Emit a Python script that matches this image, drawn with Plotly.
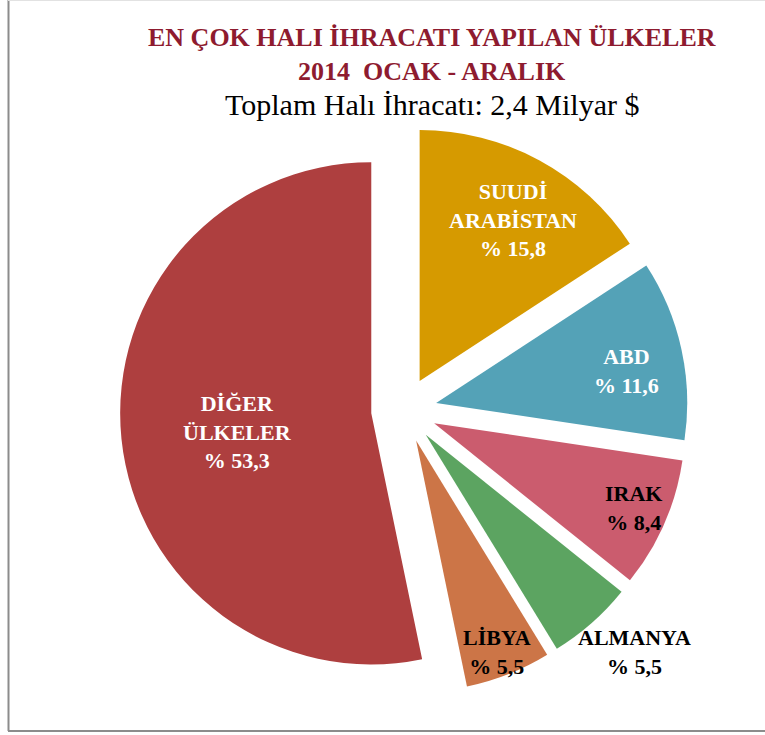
import plotly.graph_objects as go

# ---- data ----
countries = ["SUUDİ ARABİSTAN", "ABD", "IRAK", "ALMANYA", "LİBYA", "DİĞER ÜLKELER"]
label_lines = [["SUUDİ", "ARABİSTAN"], ["ABD"], ["IRAK"], ["ALMANYA"], ["LİBYA"], ["DİĞER", "ÜLKELER"]]
values = [15.8, 11.6, 8.4, 5.5, 5.5, 53.3]
colors = ["#D69A00", "#54A2B7", "#CB5C6E", "#5CA461", "#CC7547", "#AE3F3F"]
label_colors = ["white", "white", "black", "black", "black", "white"]
# label centres in pixels (layout only)
label_pos_px = [(513, 220), (626, 371), (633, 508), (634, 652), (497, 652), (237, 432)]

title_lines = ["EN ÇOK HALI İHRACATI YAPILAN ÜLKELER", "2014&nbsp; OCAK - ARALIK"]
subtitle = "Toplam Halı İhracatı: 2,4 Milyar $"

W, H = 765, 735
SERIF = "Liberation Serif, Times New Roman, serif"

fig = go.Figure(go.Pie(
    labels=countries,
    values=values,
    sort=False,
    direction="clockwise",
    rotation=0,
    pull=[0.131] * len(values),
    marker=dict(colors=colors, line=dict(width=0)),
    textinfo="none",
    hoverinfo="skip",
    showlegend=False,
    domain=dict(x=[120 / W, 688 / W], y=[1 - 694 / H, 1 - 126 / H]),
))

annotations = []
for lines, v, (px, py), c in zip(label_lines, values, label_pos_px, label_colors):
    txt = "<br>".join("<b>" + s + "</b>" for s in lines + ["% " + f"{v:.1f}".replace(".", ",")])
    annotations.append(dict(
        x=px / W, y=1 - py / H, xref="paper", yref="paper",
        text=txt, showarrow=False, xanchor="center", yanchor="middle",
        font=dict(family=SERIF, size=22, color=c), align="center",
    ))

annotations.append(dict(x=432 / W, y=1 - 38 / H, xref="paper", yref="paper",
                        text="<b>" + title_lines[0] + "</b>", showarrow=False,
                        xanchor="center", yanchor="middle",
                        font=dict(family=SERIF, size=26, color="#8E1B2F")))
annotations.append(dict(x=432 / W, y=1 - 72 / H, xref="paper", yref="paper",
                        text="<b>" + title_lines[1] + "</b>", showarrow=False,
                        xanchor="center", yanchor="middle",
                        font=dict(family=SERIF, size=26, color="#8E1B2F")))
annotations.append(dict(x=432 / W, y=1 - 104 / H, xref="paper", yref="paper",
                        text=subtitle, showarrow=False,
                        xanchor="center", yanchor="middle",
                        font=dict(family=SERIF, size=30, color="black")))

shapes = [
    dict(type="line", xref="paper", yref="paper", x0=8.5 / W, x1=8.5 / W, y0=1 - 731 / H, y1=1,
         line=dict(color="#8C8C8C", width=2)),
    dict(type="line", xref="paper", yref="paper", x0=8 / W, x1=1, y0=1 - 731 / H, y1=1 - 731 / H,
         line=dict(color="#8C8C8C", width=2)),
    dict(type="line", xref="paper", yref="paper", x0=8 / W, x1=1, y0=1 - 0.5 / H, y1=1 - 0.5 / H,
         line=dict(color="#E2E2E2", width=1)),
]

fig.update_layout(
    width=W, height=H,
    margin=dict(l=0, r=0, t=0, b=0),
    paper_bgcolor="white", plot_bgcolor="white",
    annotations=annotations, shapes=shapes,
)

fig.write_html("out.html", config={"displayModeBar": False},
               post_script="document.body.style.margin='0';")
